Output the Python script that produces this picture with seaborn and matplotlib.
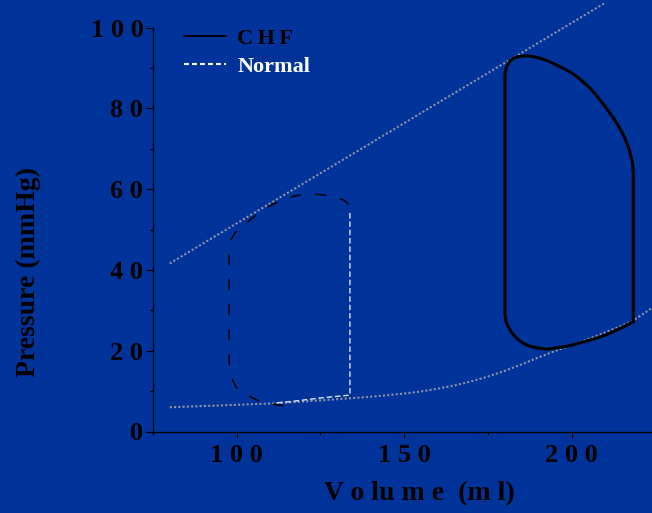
import matplotlib
matplotlib.use("Agg")
import matplotlib.pyplot as plt
from matplotlib.lines import Line2D
from matplotlib.ticker import MultipleLocator
import seaborn as sns

# ---------------- data ----------------
espvr_vol = [80, 210]
espvr_p = [41.6, 106.1]

edpvr_vol = [80, 100, 112, 125, 140, 149, 155, 160, 165, 170, 175, 180, 185, 190, 195, 200, 205, 210, 215, 218, 221, 224]
edpvr_p = [6.0, 6.6, 7.0, 7.7, 8.6, 9.3, 9.9, 10.6, 11.4, 12.4, 13.6, 15.0, 16.6, 18.3, 19.9, 21.4, 22.9, 24.5, 26.2, 27.3, 28.9, 30.6]

chf_vol = [218.4, 218.4, 218.2, 217.6, 216.9, 215.8, 214.4, 212.5, 210.4, 208.0, 205.5, 203.0, 200.5,
           198.0, 195.5, 193.0, 190.5, 188.5, 186.6, 184.0, 182.5, 181.4, 180.6, 180.2, 180.1,
           180.1, 180.4, 181.1, 182.0, 183.1, 184.7, 186.6, 188.5, 190.5, 192.5, 195.5, 198.5,
           201.5, 204.5, 207.5, 210.5, 213.4, 216.0, 218.4]
chf_p = [27.2, 63.9, 66.4, 68.5, 70.5, 72.8, 75.0, 77.6, 80.0, 82.6, 85.0, 86.9, 88.5,
         89.7, 90.7, 91.7, 92.4, 92.8, 93.0, 92.8, 92.3, 91.5, 90.3, 89.0, 87.8,
         28.8, 27.2, 25.9, 24.6, 23.5, 22.3, 21.4, 20.9, 20.6, 20.4, 20.7, 21.1,
         21.7, 22.4, 23.1, 24.0, 25.1, 26.1, 27.2]

normal_vol = [133.5, 132.0, 129.6, 125.5, 122.2, 118.0, 114.7, 110.4, 107.0, 103.0, 99.5, 98.2, 97.7,
              97.7, 97.9, 98.6, 99.8, 101.5, 103.5, 106.0, 109.0, 112.0, 114.5]
normal_p = [56.2, 57.3, 58.0, 58.6, 58.8, 58.4, 57.7, 56.1, 54.4, 51.7, 49.2, 47.3, 45.5,
            18.5, 15.5, 13.0, 11.0, 9.8, 8.9, 7.8, 7.0, 6.6, 6.3]

normal_seg_vol = [112.0, 116.0, 120.0, 125.0, 130.0, 133.8, 133.8]
normal_seg_p = [7.1, 7.4, 7.8, 8.3, 8.7, 9.0, 54.4]

xticks = [100, 150, 200]
xticklabels = ["1 0 0", "1 5 0", "2 0 0"]
yticks = [0, 20, 40, 60, 80, 100]
yticklabels = ["0", "2 0", "4 0", "6 0", "8 0", "1 0 0"]
legend_labels = ["C\u2009H\u2009F", "Normal"]
x_label = "V o lu m e  (m l)"
y_label = "Pressure (mmHg)"

# ---------------- style ----------------
sns.set_style("ticks")
plt.rcParams["font.family"] = ["Liberation Serif", "DejaVu Serif"]
plt.rcParams["font.weight"] = "bold"
BG = "#003399"
DOT = "#9296a4"

fig = plt.figure(figsize=(6.52, 5.13), dpi=100, facecolor=BG)
W, H = 652, 513
ax = fig.add_axes([153 / W, 1 - 431.5 / H, 1 - 153 / W, (431.5 - 27.5) / H])
ax.set_facecolor(BG)

sns.lineplot(x=espvr_vol, y=espvr_p, ax=ax, color=DOT, lw=1.5,
             linestyle=(0, (1, 1.05)), clip_on=False, sort=False, estimator=None)
sns.lineplot(x=edpvr_vol, y=edpvr_p, ax=ax, color=DOT, lw=1.5,
             linestyle=(0, (1, 1.05)), clip_on=False, sort=False, estimator=None)
sns.lineplot(x=chf_vol, y=chf_p, ax=ax, color="black", lw=2.2,
             sort=False, estimator=None)
sns.lineplot(x=normal_vol, y=normal_p, ax=ax, color="black", lw=1.1,
             linestyle=(0, (7.2, 9.2)), sort=False, estimator=None)
sns.lineplot(x=normal_seg_vol, y=normal_seg_p, ax=ax, color="#dde4f2", lw=1.0,
             linestyle=(0, (4, 2)), sort=False, estimator=None)

ax.set_xlim(75, 224)
ax.set_ylim(0, 100)

for s in ["top", "right"]:
    ax.spines[s].set_visible(False)
for s in ["left", "bottom"]:
    ax.spines[s].set_color("black")
    ax.spines[s].set_linewidth(0.9)

ax.set_xticks(xticks)
ax.set_xticklabels(xticklabels)
ax.set_yticks(yticks)
ax.set_yticklabels(yticklabels)
ax.xaxis.set_minor_locator(MultipleLocator(25))
ax.yaxis.set_minor_locator(MultipleLocator(10))
ax.tick_params(axis="both", which="major", direction="out", colors="black",
               width=0.9, labelsize=19)
ax.tick_params(axis="y", which="major", length=5, pad=2)
ax.tick_params(axis="x", which="major", length=4.3, pad=5)
ax.tick_params(axis="both", which="minor", direction="out", color="black",
               width=0.9, length=2.5)
for t in ax.get_xticklabels() + ax.get_yticklabels():
    t.set_fontweight("bold")

ax.set_xlabel(x_label, fontsize=20, fontweight="bold", color="black")
ax.set_ylabel(y_label, fontsize=20, fontweight="bold", color="black")
ax.xaxis.set_label_coords(0.533, -0.1225)
ax.yaxis.set_label_coords(-0.2244, 0.395)

handles = [Line2D([], [], color="black", lw=1.3),
           Line2D([], [], color="white", lw=1.5, dashes=(2.4, 1.45))]
leg = ax.legend(handles, legend_labels, loc="upper left",
                bbox_to_anchor=(184 / W, 1 - 28 / H), bbox_transform=fig.transFigure,
                frameon=False, handlelength=1.9, handletextpad=0.5,
                borderpad=0, borderaxespad=0, labelspacing=0.35,
                prop={"weight": "bold", "size": 16})
for t, c in zip(leg.get_texts(), ["black", "white"]):
    t.set_color(c)

fig.savefig("out.png", dpi=100, facecolor=BG)
